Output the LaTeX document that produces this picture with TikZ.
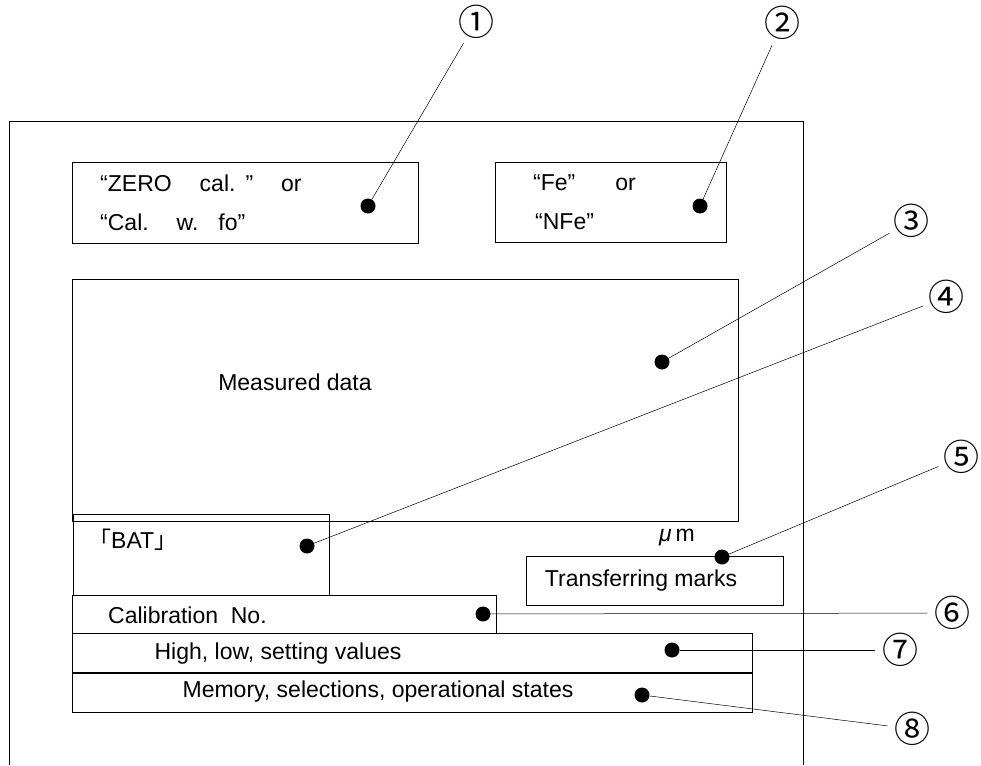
\documentclass[tikz,border=0pt]{standalone}
\usepackage{fontspec}
\setmainfont{Liberation Sans}
\newfontfamily\cjk{Noto Sans CJK JP}
\tikzset{
  box/.style={draw, line width=1pt},
  pin/.style={circle, fill, inner sep=0pt, minimum size=15pt},
  num/.style={circle, inner sep=0pt, minimum size=27pt, font=\cjk\fontsize{36}{36}\selectfont},
  lead/.style={line width=0.5pt},
  txt/.style={inner sep=0pt, font=\fontsize{23}{27}\selectfont}
}
\begin{document}
\begin{tikzpicture}[x=1pt,y=-1pt]
\useasboundingbox (0,0) rectangle (981,765);
% frame
\draw[line width=1pt] (9,765) -- (9,121) -- (803,121) -- (803,765);
% boxes
\draw[box] (72,162) rectangle (418,243);
\draw[box] (495,162) rectangle (726,242);
\draw[box] (72,279) rectangle (738,521);
\draw[box] (73,514) rectangle (329,595);
\draw[box] (526,556) rectangle (783,605);
\draw[box] (72,595) rectangle (496,633);
\draw[box] (72,633) rectangle (752,672);
\draw[box] (72,673) rectangle (752,712);
% texts
\node[txt, anchor=west] (t1a) at (100,183) {“ZERO\hspace{28pt}cal.\hspace{10pt}”\hspace{28pt}or};
\node[txt, anchor=west] (t1b) at (100,222) {“Cal.\hspace{28pt}w.\hspace{20pt}fo”};
\node[txt, anchor=west] (t2a) at (533,183) {“Fe”\hspace{40pt}or};
\node[txt, anchor=west] (t2b) at (535,222) {“NFe”};
\node[txt] (t3) at (295,382) {Measured data};
\node[txt, anchor=west] (t4) at (88,540) {{\cjk 「}BAT{\cjk 」}};
\node[txt] (um) at (677,538) {\textit{μ}\,m};
\node[txt] (t5) at (641,581) {Transferring marks};
\node[txt, anchor=west] (t6) at (108,615) {Calibration\ \ No.};
\node[txt] (t7) at (278,654) {High, low, setting values};
\node[txt] (t8) at (378,692) {Memory, selections, operational states};
% dots
\node[pin] (d1) at (368,206){};
\node[pin] (d2) at (700,206){};
\node[pin] (d3) at (662,362){};
\node[pin] (d4) at (307,546){};
\node[pin] (d5) at (722,557){};
\node[pin] (d6) at (483,614){};
\node[pin] (d7) at (672,650){};
\node[pin] (d8) at (642,695){};
% numbers
\node[num] (n1) at (476,22){①};
\node[num] (n2) at (782,23){②};
\node[num] (n3) at (911,221){③};
\node[num] (n4) at (946,297){④};
\node[num] (n5) at (961,457){⑤};
\node[num] (n6) at (952,613){⑥};
\node[num] (n7) at (900,650){⑦};
\node[num] (n8) at (912,729){⑧};
% leaders
\draw[lead] (d1) -- (n1);
\draw[lead] (d2) -- (n2);
\draw[lead] (d3) -- (n3);
\draw[lead] (d4) -- (n4);
\draw[lead] (d5) -- (n5);
\draw[lead] (d6) -- (n6);
\draw[lead] (d7) -- (n7);
\draw[lead] (d8) -- (n8);
\end{tikzpicture}
\end{document}
